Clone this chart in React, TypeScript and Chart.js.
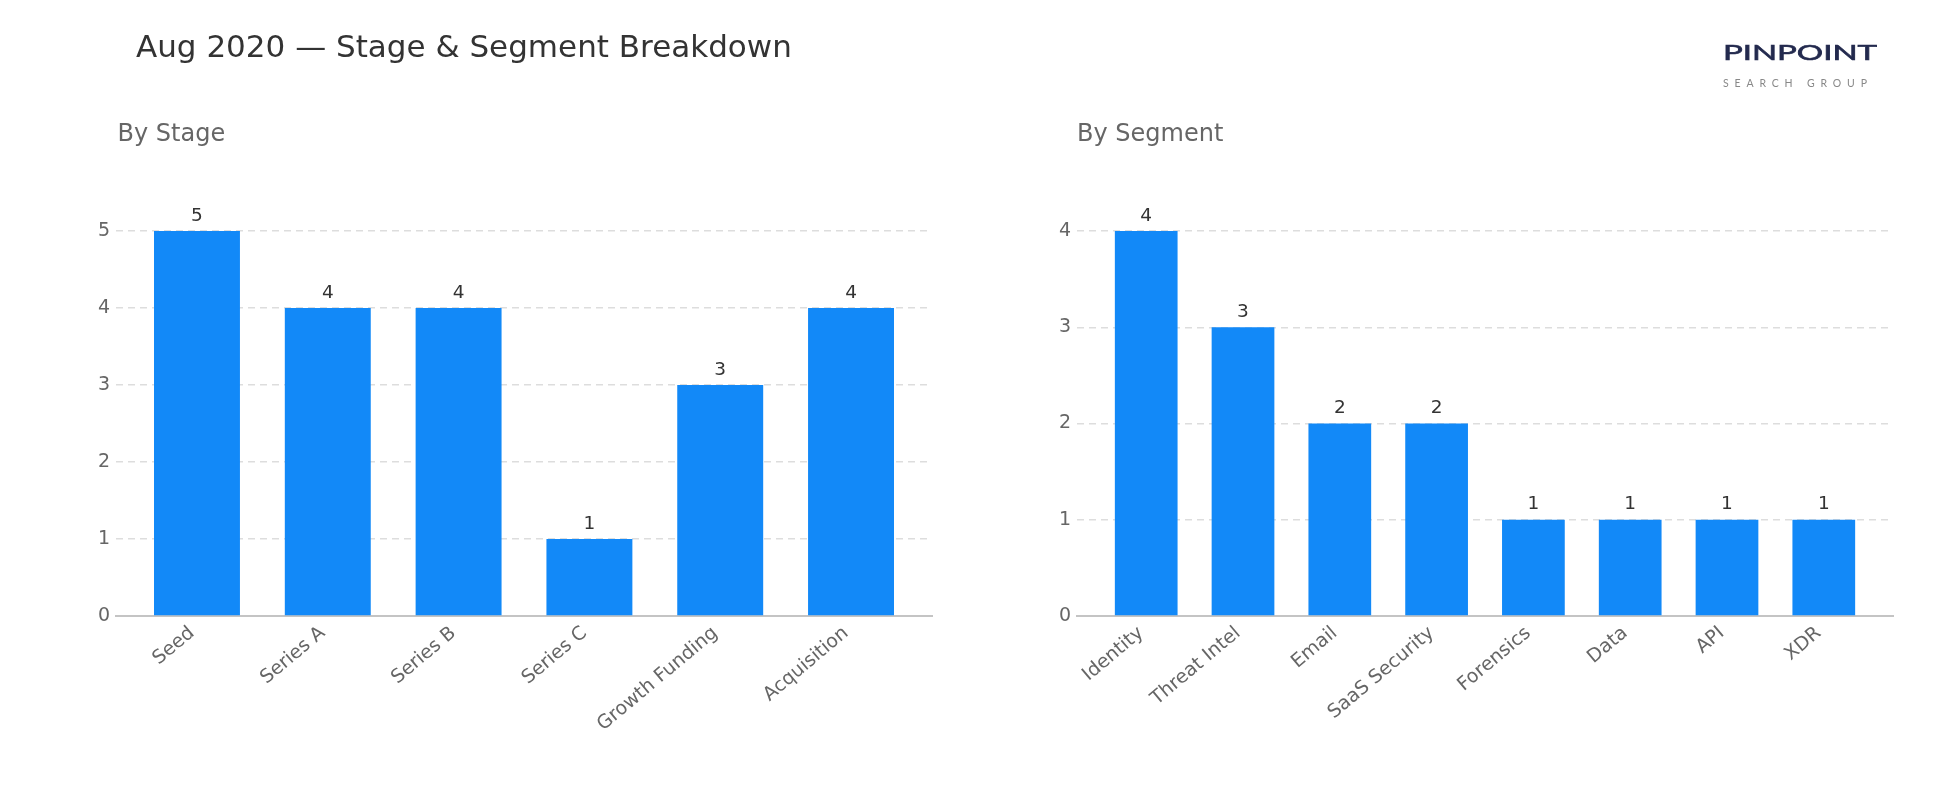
import React, { useEffect, useRef } from "react";
import { Chart, registerables } from "chart.js";

Chart.register(...registerables);

const titleText = "Aug 2020 — Stage & Segment Breakdown";
const stageTitle = "By Stage";
const segmentTitle = "By Segment";

const stageLabels = ["Seed", "Series A", "Series B", "Series C", "Growth Funding", "Acquisition"];
const stageCounts = [5, 4, 4, 1, 3, 4];
const stageTicks = [0, 1, 2, 3, 4, 5];

const segmentLabels = ["Identity", "Threat Intel", "Email", "SaaS Security", "Forensics", "Data", "API", "XDR"];
const segmentCounts = [4, 3, 2, 2, 1, 1, 1, 1];
const segmentTicks = [0, 1, 2, 3, 4];

const FONT = "'DejaVu Sans', 'Noto Sans', sans-serif";
const BAR_COLOR = "#1289F8";

const valueLabelPlugin = {
  id: "valueLabels",
  afterDatasetsDraw(chart: any) {
    const ctx = chart.ctx;
    const meta = chart.getDatasetMeta(0);
    const ds = chart.data.datasets[0];
    ctx.save();
    ctx.font = `18.5px ${FONT}`;
    ctx.fillStyle = "#333333";
    ctx.textAlign = "center";
    ctx.textBaseline = "alphabetic";
    meta.data.forEach((bar: any, i: number) => {
      const v = ds.data[i].y;
      ctx.fillText(String(v), bar.x, bar.y - 10.5);
    });
    ctx.restore();
  },
};

function makeConfig(
  labels: string[],
  counts: number[],
  ticks: number[],
  pad: number,
  barPct: number,
  yWidth: number,
  rightPad: number
): any {
  const points = counts.map((v, i) => ({ x: i, y: v }));
  return {
    type: "bar",
    data: {
      datasets: [
        {
          data: points,
          backgroundColor: BAR_COLOR,
          borderWidth: 0,
          categoryPercentage: 1,
          barPercentage: barPct,
        },
      ],
    },
    plugins: [valueLabelPlugin],
    options: {
      responsive: false,
      animation: false,
      layout: { padding: { top: 231, right: rightPad, left: 0, bottom: 0 } },
      plugins: { legend: { display: false }, tooltip: { enabled: false }, title: { display: false } },
      scales: {
        x: {
          type: "linear",
          offset: false,
          min: -0.5 - pad,
          max: labels.length - 0.5 + pad,
          afterBuildTicks: (axis: any) => {
            axis.ticks = labels.map((_, i) => ({ value: i }));
          },
          afterFit: (axis: any) => {
            axis.height = 810 - 616;
          },
          grid: { display: false, drawTicks: false, offset: false },
          border: { display: true, color: "#c4c4c4", width: 2 },
          ticks: {
            autoSkip: false,
            minRotation: 40,
            maxRotation: 40,
            padding: 6,
            labelOffset: -5,
            color: "#666666",
            font: { family: FONT, size: 19 },
            callback: (v: any) => labels[Math.round(v)] ?? "",
          },
        },
        y: {
          min: 0,
          max: ticks[ticks.length - 1],
          afterBuildTicks: (axis: any) => {
            axis.ticks = ticks.map((t) => ({ value: t }));
          },
          afterFit: (axis: any) => {
            axis.width = yWidth;
          },
          grid: {
            color: "#dddddd",
            lineWidth: 1.5,
            drawTicks: false,
          },
          border: { display: false, dash: [7, 5] },
          ticks: {
            padding: 6,
            color: "#666666",
            font: { family: FONT, size: 19 },
          },
        },
      },
    },
  };
}

function BarCanvas(props: { config: any; left: number }) {
  const ref = useRef<HTMLCanvasElement | null>(null);
  useEffect(() => {
    if (!ref.current) return;
    const chart = new Chart(ref.current, props.config);
    return () => chart.destroy();
  }, []);
  return (
    <canvas
      ref={ref}
      width={975}
      height={810}
      style={{ position: "absolute", left: props.left, top: 0, width: 975, height: 810 }}
    />
  );
}

export default function App() {
  const leftConfig = makeConfig(stageLabels, stageCounts, stageTicks, 0.119, 0.657, 116, 43);
  const rightConfig = makeConfig(segmentLabels, segmentCounts, segmentTicks, 0.215, 0.648, 102, 57);
  return (
    <div
      style={{
        position: "absolute",
        left: 0,
        top: 0,
        width: 1950,
        height: 810,
        background: "#ffffff",
        overflow: "hidden",
        fontFamily: FONT,
      }}
    >
      <BarCanvas config={leftConfig} left={0} />
      <BarCanvas config={rightConfig} left={975} />
      <div
        style={{
          position: "absolute",
          left: 136,
          top: 31,
          fontSize: 31,
          lineHeight: 1,
          color: "#333333",
          whiteSpace: "nowrap",
        }}
      >
        {titleText}
      </div>
      <div
        style={{
          position: "absolute",
          left: 117.5,
          top: 120.5,
          fontSize: 24,
          lineHeight: 1,
          color: "#666666",
          whiteSpace: "nowrap",
        }}
      >
        {stageTitle}
      </div>
      <div
        style={{
          position: "absolute",
          left: 1077,
          top: 120.5,
          fontSize: 24,
          lineHeight: 1,
          color: "#666666",
          whiteSpace: "nowrap",
        }}
      >
        {segmentTitle}
      </div>
      <svg
        width={200}
        height={70}
        style={{ position: "absolute", left: 1710, top: 30 }}
      >
        <text
          x={13}
          y={29.5}
          textLength={154}
          lengthAdjust="spacingAndGlyphs"
          fill="#232a4e"
          stroke="#232a4e"
          strokeWidth={0.6}
          style={{ fontFamily: "Lato, 'DejaVu Sans', sans-serif", fontWeight: 400, fontSize: 20.5 }}
        >
          PINPOINT
        </text>
        <text
          x={13}
          y={57}
          textLength={144}
          lengthAdjust="spacing"
          fill="#888888"
          style={{ fontFamily: "Lato, 'DejaVu Sans', sans-serif", fontWeight: 400, fontSize: 10.5 }}
        >
          SEARCH GROUP
        </text>
      </svg>
    </div>
  );
}
